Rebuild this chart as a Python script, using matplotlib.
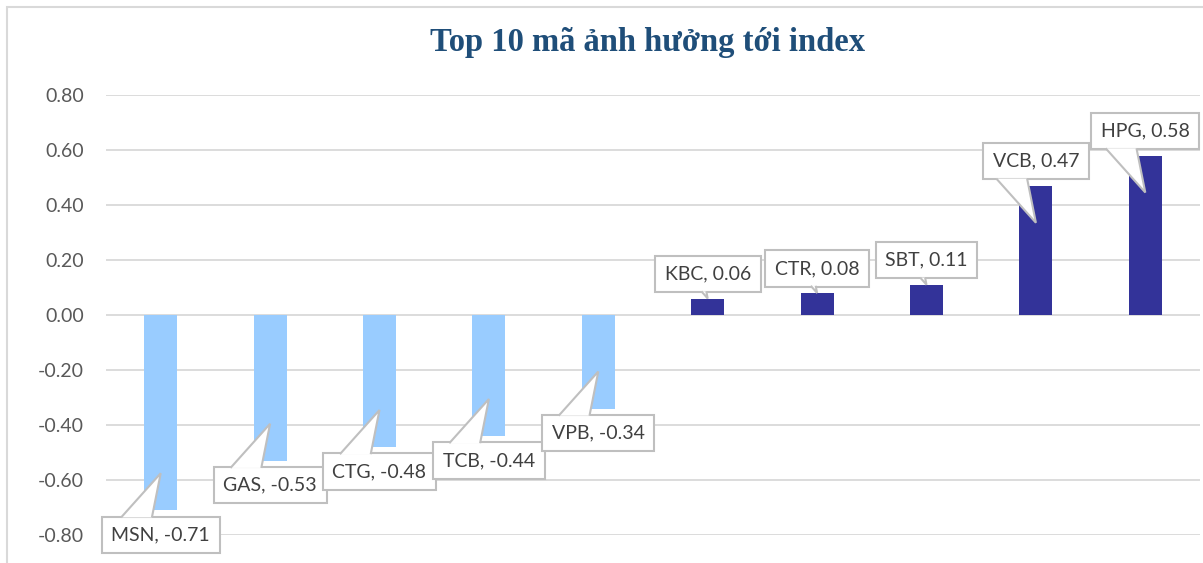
import numpy as np
import matplotlib
matplotlib.use("Agg")
import matplotlib.pyplot as plt
import matplotlib.transforms as mtransforms
from matplotlib.patches import Polygon, Rectangle
from matplotlib.ticker import FuncFormatter

# data
tickers = ["MSN", "GAS", "CTG", "TCB", "VPB", "KBC", "CTR", "SBT", "VCB", "HPG"]
values = [-0.71, -0.53, -0.48, -0.44, -0.34, 0.06, 0.08, 0.11, 0.47, 0.58]
yticks = [-0.8, -0.6, -0.4, -0.2, 0.0, 0.2, 0.4, 0.6, 0.8]
title = "Top 10 mã ảnh hưởng tới index"

NEG_COLOR = "#99CCFF"
POS_COLOR = "#333399"
GRID_COLOR = "#D9D9D9"
LABEL_FONT = "Lato"

fig = plt.figure(figsize=(12.03, 5.63), dpi=100)
ax = fig.add_axes([106 / 1203, 1 - 535 / 563, (1200 - 106) / 1203, (535 - 95) / 563])

x = np.arange(len(tickers))
colors = [POS_COLOR if v > 0 else NEG_COLOR for v in values]
ax.bar(x, values, width=0.3, color=colors, zorder=2)

ax.set_xlim(-0.5, len(tickers) - 0.5)
ax.set_ylim(-0.8, 0.8)
ax.set_yticks(yticks)
ax.yaxis.set_major_formatter(FuncFormatter(lambda v, p: f"{v:.2f}"))
ax.set_xticks([])
ax.tick_params(axis="y", length=0, pad=16, labelsize=14, labelcolor="#595959")
for lab in ax.get_yticklabels():
    lab.set_fontfamily(LABEL_FONT)
ax.grid(axis="y", color=GRID_COLOR, lw=1.3)
ax.set_axisbelow(True)
for sp in ax.spines.values():
    sp.set_visible(False)

# callout data labels (box + wedge pointing into the bar)
px_per_unit = 275.0
for i, (name, v) in enumerate(zip(tickers, values)):
    s = 1 if v > 0 else -1
    ax.annotate(f"{name}, {v:.2f}", xy=(i, v), xytext=(0, s * 24.5),
                textcoords="offset pixels", ha="center", va="center",
                fontsize=14, family=LABEL_FONT, color="#404040",
                bbox=dict(boxstyle="square,pad=0.5", fc="white",
                          ec="#BFBFBF", lw=1.5),
                zorder=4, annotation_clip=False)
    inset = 37 if abs(v) * px_per_unit > 60 else 0
    h = 7 + inset
    verts = [(-0.9 * h, s * 7.2), (0, -s * inset), (-0.2 * h, s * 7.2)]
    tr = mtransforms.Affine2D() + mtransforms.ScaledTranslation(i, v, ax.transData)
    wedge = Polygon(verts, closed=False, fc="white", ec="#BFBFBF", lw=1.5,
                    transform=tr, zorder=5, clip_on=False)
    ax.add_patch(wedge)

fig.text(648 / 1203, 1 - 43 / 563, title, ha="center", va="center",
         fontsize=23.5, fontweight="bold", family="Liberation Serif",
         color="#1F4E79")

# chart area border
fig.add_artist(Rectangle((7 / 1203, -0.1), 1.5, 1.1 - 7.5 / 563, fill=False,
                         ec=GRID_COLOR, lw=1.5, transform=fig.transFigure))

fig.savefig("out.png", dpi=100)
